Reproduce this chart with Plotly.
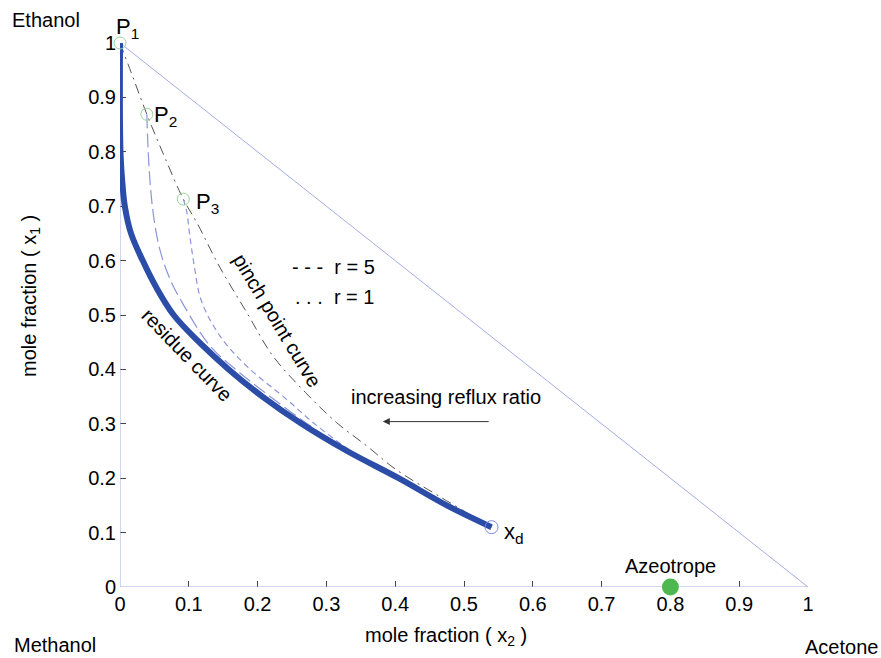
import plotly.graph_objects as go

# ---- data ----
tick_vals = [0, 0.1, 0.2, 0.3, 0.4, 0.5, 0.6, 0.7, 0.8, 0.9, 1]
tick_text = ["0", "0.1", "0.2", "0.3", "0.4", "0.5", "0.6", "0.7", "0.8", "0.9", "1"]

residue_x2 = [0, 0, 0.001, 0.003, 0.007, 0.016, 0.033, 0.053, 0.078, 0.115, 0.158, 0.207, 0.264, 0.33, 0.405, 0.475, 0.54]
residue_x1 = [1, 0.85, 0.79, 0.75, 0.70, 0.65, 0.60, 0.55, 0.50, 0.45, 0.40, 0.35, 0.30, 0.25, 0.20, 0.15, 0.11]

pinch_x2 = [0, 0.018, 0.039, 0.065, 0.092, 0.112, 0.145, 0.185, 0.222, 0.27, 0.315, 0.36, 0.40, 0.465, 0.54]
pinch_x1 = [1, 0.94, 0.869, 0.79, 0.713, 0.669, 0.588, 0.503, 0.425, 0.357, 0.302, 0.258, 0.217, 0.166, 0.11]

p2_x2 = [0.039, 0.041, 0.044, 0.049, 0.058, 0.073, 0.094, 0.131, 0.17, 0.21, 0.27, 0.33, 0.405, 0.475, 0.54]
p2_x1 = [0.869, 0.80, 0.74, 0.68, 0.62, 0.565, 0.515, 0.443, 0.398, 0.358, 0.302, 0.251, 0.201, 0.151, 0.11]

p3_x2 = [0.092, 0.097, 0.101, 0.108, 0.118, 0.145, 0.185, 0.243, 0.28, 0.335, 0.405, 0.475, 0.54]
p3_x1 = [0.713, 0.69, 0.65, 0.59, 0.527, 0.462, 0.405, 0.344, 0.303, 0.251, 0.201, 0.151, 0.11]

pinch_pts_x2 = [0, 0.039, 0.092]
pinch_pts_x1 = [1, 0.869, 0.713]
pinch_pts_labels = ["P<sub>1</sub>", "P<sub>2</sub>", "P<sub>3</sub>"]

xd_x2 = [0.54]
xd_x1 = [0.11]

azeo_x2 = [0.8]
azeo_x1 = [0.0]

triangle_x2 = [0, 1, 0, 0]
triangle_x1 = [0, 0, 1, 0]

FONT = "Liberation Sans, Arial, Helvetica, sans-serif"
THIN = "#8c94dc"
FS = 20

W, H = 881, 658
L, R, T, B = 120, 73, 43, 71
pw, ph = W - L - R, H - T - B


def px(xp):
    return (xp - L) / pw


def py(yp):
    return (H - B - yp) / ph


fig = go.Figure()

fig.add_trace(go.Scatter(x=triangle_x2, y=triangle_x1, mode="lines",
                         line=dict(color="#a4abe4", width=1), cliponaxis=False, hoverinfo="skip"))
fig.add_trace(go.Scatter(x=pinch_x2, y=pinch_x1, mode="lines", line_shape="spline",
                         line=dict(color="#555555", width=1, dash="10px,5px,2px,5px"), cliponaxis=False))
fig.add_trace(go.Scatter(x=p2_x2, y=p2_x1, mode="lines", line_shape="spline",
                         line=dict(color=THIN, width=1.2, dash="14px,5px"), cliponaxis=False))
fig.add_trace(go.Scatter(x=p3_x2, y=p3_x1, mode="lines", line_shape="spline",
                         line=dict(color=THIN, width=1.2, dash="6px,4px"), cliponaxis=False))
fig.add_trace(go.Scatter(x=residue_x2, y=residue_x1, mode="lines", line_shape="spline",
                         line=dict(color="#2b4da8", width=6), cliponaxis=False))
fig.add_trace(go.Scatter(x=pinch_pts_x2, y=pinch_pts_x1, mode="markers",
                         marker=dict(symbol="circle-open", size=12, color="#9bd49b", line=dict(width=1)),
                         cliponaxis=False))
fig.add_trace(go.Scatter(x=xd_x2, y=xd_x1, mode="markers",
                         marker=dict(symbol="circle-open", size=13, color="#7f8ae0", line=dict(width=1)),
                         cliponaxis=False))
fig.add_trace(go.Scatter(x=azeo_x2, y=azeo_x1, mode="markers",
                         marker=dict(symbol="circle", size=17, color="#4db84d"),
                         cliponaxis=False))


def text_px(txt, xp, yp, xanchor="left", angle=0, size=FS):
    fig.add_annotation(x=px(xp), y=py(yp), xref="paper", yref="paper", text=txt, showarrow=False,
                       xanchor=xanchor, yanchor="middle", textangle=angle,
                       font=dict(size=size, color="black", family=FONT))


# point labels
text_px(pinch_pts_labels[0], 114, 28, size=22)
text_px(pinch_pts_labels[1], 152, 116, size=22)
text_px(pinch_pts_labels[2], 194, 203, size=22)
text_px("x<sub>d</sub>", 502, 533, size=22)
text_px("Azeotrope", 670, 566, xanchor="center")

# curve labels
text_px("pinch point curve", 277, 320, xanchor="center", angle=59)
text_px("residue curve", 187, 355, xanchor="center", angle=46)

# legend-like texts
text_px("- - -  r = 5", 290, 267)
text_px(". . .  r = 1", 293, 297)
text_px("increasing reflux ratio", 446, 397, xanchor="center")

# arrow
fig.add_annotation(x=0.382, y=0.304, ax=0.538, ay=0.304, axref="x", ayref="y", xref="x", yref="y",
                   text="", showarrow=True, arrowhead=2, arrowsize=1.4, arrowwidth=1, arrowcolor="#333333")

# corner labels
text_px("Ethanol", 10, 20)
text_px("Methanol", 12, 645)
text_px("Acetone", 803, 647)

# axis titles
text_px("mole fraction ( x<sub>2</sub> )", 446, 636, xanchor="center")
text_px("mole fraction ( x<sub>1</sub> )", 30, 296, xanchor="center", angle=-90)

axis_common = dict(range=[0, 1], tickvals=tick_vals, ticktext=tick_text, ticks="inside", ticklen=6,
                   tickcolor="#444444", showgrid=False, zeroline=False, showline=False,
                   layer="below traces",
                   tickfont=dict(size=FS, color="black", family=FONT))
fig.update_xaxes(**axis_common, ticklabelstandoff=3)
fig.update_yaxes(**axis_common, ticklabelstandoff=3)

fig.update_layout(width=W, height=H, margin=dict(l=L, r=R, t=T, b=B),
                  plot_bgcolor="white", paper_bgcolor="white", showlegend=False,
                  font=dict(family=FONT, color="black"))

fig.write_html("out.html")
